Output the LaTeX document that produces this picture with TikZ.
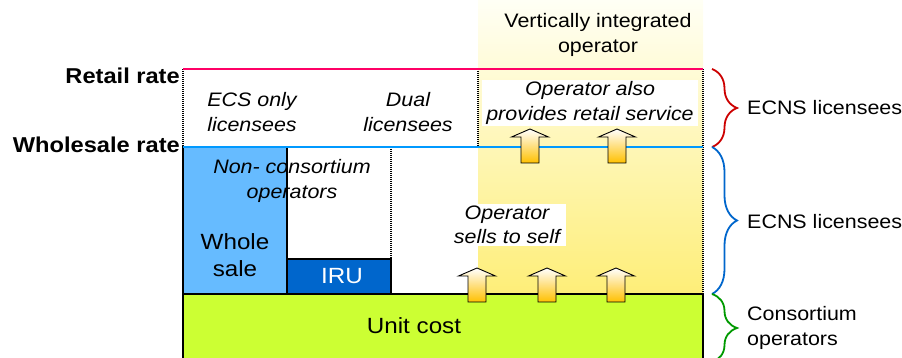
\documentclass[tikz,border=0pt]{standalone}
\usepackage{fontspec}
\setmainfont{Liberation Sans}[FakeStretch=1.1]
\usetikzlibrary{decorations.pathreplacing}
\definecolor{retailred}{HTML}{FF0066}
\definecolor{wholeblue}{HTML}{0099FF}
\definecolor{salefill}{HTML}{66BBFF}
\definecolor{irufill}{HTML}{0066CC}
\definecolor{costgreen}{HTML}{CCFF33}
\definecolor{vitop}{RGB}{255,255,245}
\definecolor{vibottom}{RGB}{254,238,120}
\definecolor{arrowgold}{HTML}{FFC000}
\definecolor{bracered}{HTML}{CC0000}
\definecolor{braceblue}{HTML}{0066CC}
\definecolor{bracegreen}{HTML}{009900}

\begin{document}
\begin{tikzpicture}[
  x=1pt,y=1pt,
  font=\fontsize{19.5}{24.5}\selectfont,
  every node/.style={align=center},
  rate/.style={font=\fontsize{21.5}{26}\selectfont\bfseries,anchor=east,inner sep=1pt},
  tag/.style={font=\fontsize{19.5}{24.5}\selectfont\itshape,inner sep=2pt},
  big/.style={font=\fontsize{22}{27}\selectfont},
  side/.style={anchor=west,align=left,inner sep=1pt},
  zone/.style={draw=black,line width=1.2pt},
  divider/.style={line width=1.2pt,dash pattern=on 1pt off 1pt},
  level/.style={line width=2.8pt},
  brace/.style={decorate,decoration={brace,amplitude=25pt},line width=1.8pt},
  flowup/.style={draw=black,line width=0.9pt,top color=white,bottom color=arrowgold},
]
\useasboundingbox (0,0) rectangle (902,358);

\shade[top color=vitop,bottom color=vibottom] (478,64) rectangle (703,358);
\fill[costgreen] (183,-5) rectangle (703,64);
\draw[zone] (183,-5) -- (183,64) -- (703,64) -- (703,-5);
\draw[zone,fill=salefill] (183,64) rectangle (287,211);
\draw[zone,fill=irufill] (287,64) rectangle (391,99);

\draw[divider] (183,289) -- (183,211);
\draw[divider] (478,289) -- (478,211);
\draw[divider] (391,211) -- (391,64);
\draw[divider] (703,289) -- (703,64);

\node (vertical) at (598,323) {Vertically integrated\\operator};
\node[tag] (ecsonly) at (252,246) {ECS only\\licensees};
\node[tag] (dual) at (408,246) {Dual\\licensees};
\node[tag,fill=white,inner xsep=4pt] (alsoretail) at (590,255) {Operator also\\provides retail service};
\node[tag] (noncons) at (292,177) {Non- consortium\\operators};
\node[big] (wholesale) at (235,103) {Whole\\sale};
\node[big,text=white] (iru) at (342,82) {IRU};
\node[tag,fill=white,inner xsep=6pt] (sellsself) at (507,133) {Operator\\sells to self};
\node[big] (unitcost) at (414,32) {Unit cost};

\draw[level,retailred] (183,289) -- (703,289);
\draw[level,wholeblue] (183,211) -- (703,211);

\foreach \cx/\by in {477/56,547/56,616/56,530/195,617/195}
  \draw[flowup] (\cx-9,\by) -- (\cx-9,\by+26) -- (\cx-18.5,\by+26) -- (\cx,\by+34)
    -- (\cx+18.5,\by+26) -- (\cx+9,\by+26) -- (\cx+9,\by) -- cycle;

\node[rate] (retailrate) at (181,282) {Retail rate};
\node[rate] (wholesalerate) at (181,213) {Wholesale rate};

\coordinate (retailend) at (712,289);
\coordinate (wholesaleend) at (712,211);
\coordinate (costend) at (712,64);
\coordinate (lowend) at (712,-4);
\draw[brace,bracered] (retailend) -- (wholesaleend);
\draw[brace,braceblue] (wholesaleend) -- (costend);
\draw[brace,bracegreen] (costend) -- (lowend);

\node[side] (retaillic) at (746,250) {ECNS licensees};
\node[side] (networklic) at (746,136) {ECNS licensees};
\node[side] (consortium) at (746,30) {Consortium\\operators};
\end{tikzpicture}
\end{document}
